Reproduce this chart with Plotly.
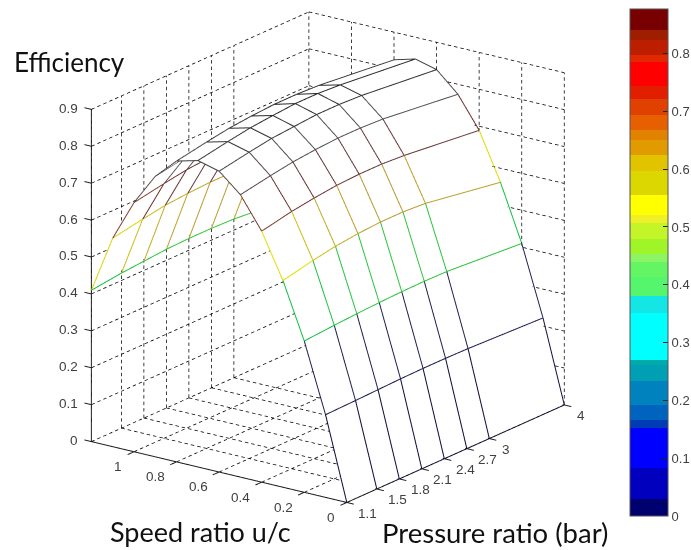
import math
import plotly.graph_objects as go

pressure = [1.1, 1.5, 1.8, 2.1, 2.4, 2.7, 3.0, 4.0]
speed = [0.0, 0.1, 0.2, 0.3, 0.4, 0.5, 0.6, 0.7, 0.8, 0.9, 1.0, 1.1, 1.2]
efficiency = [
    [0, 0, 0, 0, 0, 0, 0, 0],
    [.224, .226, .228, .230, .231, .231, .230, .222],
    [.410, .416, .420, .423, .425, .426, .425, .410],
    [.560, .578, .589, .596, .600, .600, .596, .562],
    [.680, .697, .706, .713, .716, .716, .712, .689],
    [.765, .780, .790, .796, .800, .800, .797, .773],
    [.815, .830, .840, .845, .850, .850, .847, .826],
    [.830, .845, .855, .861, .866, .866, .862, .841],
    [.815, .830, .840, .846, .850, .850, .847, .825],
    [.760, .775, .785, .791, .795, .795, .792, .770],
    [.675, .690, .700, .705, .708, .708, .705, .685],
    [.565, .580, .590, .595, .598, .598, .595, .570],
    [.410, .420, .425, .430, .432, .432, .430, .410],
]
p_ticks = [1.1, 1.5, 1.8, 2.1, 2.4, 2.7, 3, 4]
u_ticks = [0, 0.2, 0.4, 0.6, 0.8, 1]
z_ticks = [0, 0.1, 0.2, 0.3, 0.4, 0.5, 0.6, 0.7, 0.8, 0.9]
bar_ticks = [0, 0.1, 0.2, 0.3, 0.4, 0.5, 0.6, 0.7, 0.8]

band_tops = [.030, .083, .152, .166, .192, .234, .262, .270, .352, .381, .413, .439, .453,
             .480, .507, .521, .556, .597, .625, .650, .667, .694, .722, .744, .785, .798, .823, .840, .877]
band_colors = ["#00006e", "#0000be", "#0000ff", "#003cb4", "#0064be", "#0082be", "#00a0b4", "#00aaaa",
               "#00ffff", "#14e6e6", "#55f56e", "#64f564", "#8cf564", "#a0f528", "#c3f528", "#f0f028",
               "#ffff00", "#dcd700", "#e1c300", "#e19b00", "#e18200", "#e65f00", "#e14100", "#e11e00",
               "#ff0000", "#e12800", "#be1e00", "#a01e00", "#780000"]
mesh_levels = [0, .25, .30, .41, .50, .56, .60, .65, .69, .75, .80, .877]
mesh_colors = ["#101040", "#1c1c50", "#108080", "#10c040", "#a0e020", "#e0e000", "#b89a30",
               "#9a6a30", "#703030", "#604848", "#505050", "#202020"]

P_MIN, P_MAX, U_MIN, U_MAX, Z_MAX = 1.1, 4.0, 0.0, 1.2, 0.9
XR, YR, ZR = [1.0, 4.05], [-0.05, 1.25], [-0.01, 0.91]
CMAX = band_tops[-1]

scale = []
prev = 0.0
for top, col in zip(band_tops, band_colors):
    scale += [[prev / CMAX, col], [top / CMAX, col]]
    prev = top
mesh_scale = [[lv / CMAX, c] for lv, c in zip(mesh_levels, mesh_colors)]

fig = go.Figure()

fig.add_trace(go.Surface(
    x=[p + 0.018 for p in pressure], y=[u + 0.0063 for u in speed],
    z=[[v - 0.0025 for v in row] for row in efficiency],
    colorscale=[[0, "white"], [1, "white"]], showscale=False, hoverinfo="skip",
    lighting=dict(ambient=1, diffuse=0, specular=0, fresnel=0, roughness=1),
))

def polyline_trace(segs, color, width):
    xs, ys, zs = [], [], []
    for seg in segs:
        for (a, b, c) in seg:
            xs.append(a); ys.append(b); zs.append(c)
        xs.append(None); ys.append(None); zs.append(None)
    return go.Scatter3d(x=xs, y=ys, z=zs, mode="lines", hoverinfo="skip", showlegend=False,
                        line=dict(color=color, width=width))

def dashes(a, b, on=3.5, off=3.0):
    sx = (b[0] - a[0]) * 75.17 - (b[1] - a[1]) * 213.3
    sy = (b[0] - a[0]) * 33.8 + (b[1] - a[1]) * 50.8 + (b[2] - a[2]) * 370
    length = math.hypot(sx, sy)
    out, t = [], 0.0
    while t < length:
        t1 = min(t + on, length)
        f0, f1 = t / length, t1 / length
        out.append([tuple(a[k] + (b[k] - a[k]) * f0 for k in range(3)),
                    tuple(a[k] + (b[k] - a[k]) * f1 for k in range(3))])
        t += on + off
    return out

grid = []
for z in z_ticks:
    grid += dashes((P_MIN, U_MAX, z), (P_MAX, U_MAX, z))
    grid += dashes((P_MAX, U_MAX, z), (P_MAX, U_MIN, z))
for p in p_ticks:
    grid += dashes((p, U_MAX, 0), (p, U_MAX, Z_MAX))
    grid += dashes((p, U_MAX, 0), (p, U_MIN, 0))
for u in u_ticks:
    grid += dashes((P_MAX, u, 0), (P_MAX, u, Z_MAX))
    grid += dashes((P_MIN, u, 0), (P_MAX, u, 0))
grid += dashes((P_MAX, U_MAX, 0), (P_MAX, U_MAX, Z_MAX))
fig.add_trace(polyline_trace(grid, "#000000", 1.5))

axes = [[(P_MIN, U_MAX, 0), (P_MIN, U_MIN, 0), (P_MAX, U_MIN, 0)],
        [(P_MIN, U_MAX, 0), (P_MIN, U_MAX, Z_MAX)]]
for z in z_ticks:
    axes.append([(P_MIN, U_MAX, z), (P_MIN, U_MAX + 0.033, z)])
for u in u_ticks:
    axes.append([(P_MIN, u, 0), (P_MIN - 0.085, u, 0)])
for p in p_ticks:
    axes.append([(p, U_MIN, 0), (p, U_MIN - 0.033, 0)])
fig.add_trace(polyline_trace(axes, "#222222", 2))

mx, my, mz, mc = [], [], [], []
def add_edge(a, b, v):
    mx.extend([a[0], b[0], None]); my.extend([a[1], b[1], None]); mz.extend([a[2], b[2], None])
    mc.extend([v, v, v])
for i, u in enumerate(speed):
    for j, p in enumerate(pressure):
        v = efficiency[i][j]
        if j + 1 < len(pressure):
            add_edge((p, u, v), (pressure[j + 1], u, efficiency[i][j + 1]), v)
        if i + 1 < len(speed):
            add_edge((p, u, v), (p, speed[i + 1], efficiency[i + 1][j]), v)
fig.add_trace(go.Scatter3d(
    x=mx, y=my, z=mz, mode="lines", hoverinfo="skip", showlegend=False,
    line=dict(color=mc, colorscale=mesh_scale, cmin=0, cmax=CMAX, width=2),
))
fig.add_trace(go.Scatter3d(
    x=[P_MAX], y=[U_MAX], z=[0], mode="markers", hoverinfo="skip", showlegend=False,
    marker=dict(size=1, opacity=0, color=[0], colorscale=scale, cmin=0, cmax=CMAX, showscale=True,
                colorbar=dict(x=630 / 691, xanchor="left", xpad=0, ypad=0, y=1 - 9 / 550, yanchor="top",
                              lenmode="pixels", len=507, thicknessmode="pixels", thickness=38,
                              tickvals=bar_ticks, ticktext=[f"{t:g}" for t in bar_ticks],
                              ticks="inside", ticklen=5, tickcolor="#222222",
                              tickfont=dict(family="Liberation Sans", size=13, color="#404040"),
                              outlinecolor="#555555", outlinewidth=1)),
))

TICKFONT = dict(family="Liberation Sans", size=13.5, color="#404040")
ann = []
for z in z_ticks:
    ann.append(dict(x=P_MIN, y=U_MAX, z=z, text=f"{z:g}", showarrow=False, xanchor="right",
                    xshift=-11, yshift=1, font=TICKFONT))
for u in u_ticks:
    ann.append(dict(x=P_MIN, y=u, z=0, text=f"{u:g}", showarrow=False,
                    xshift=-21 if 0 < u < 1 else -16, yshift=-15, font=TICKFONT))
for p in p_ticks:
    ann.append(dict(x=p, y=U_MIN, z=0, text=f"{p:g}", showarrow=False,
                    xshift=21 if p < 3 else 17, yshift=-11, font=TICKFONT))

bar_px = lambda v: 1 - (9 + 507 * (1 - v / CMAX)) / 550
shapes = [dict(type="line", xref="paper", yref="paper", x0=630 / 691, x1=635 / 691, y0=bar_px(t), y1=bar_px(t),
               line=dict(color="#222222", width=1)) for t in bar_ticks[1:]]
shapes += [dict(type="line", xref="paper", yref="paper", x0=663 / 691, x1=668 / 691, y0=bar_px(t), y1=bar_px(t),
                line=dict(color="#222222", width=1)) for t in bar_ticks[1:]]

EYE = 1.0
ZOOM = 1.505
fig.update_layout(
    width=691, height=550, margin=dict(l=0, r=0, t=0, b=0, autoexpand=False), paper_bgcolor="white", showlegend=False,
    shapes=shapes,
    annotations=[
        dict(x=12 / 691, y=1 - 62 / 550, xref="paper", yref="paper", xanchor="left", yanchor="middle", text="Efficiency",
             showarrow=False, font=dict(family="Lato", size=26, color="#111111")),
        dict(x=108 / 691, y=1 - 531 / 550, xref="paper", yref="paper", xanchor="left", yanchor="middle", text="Speed ratio u/c",
             showarrow=False, font=dict(family="Lato", size=27, color="#111111")),
        dict(x=380 / 691, y=1 - 532 / 550, xref="paper", yref="paper", xanchor="left", yanchor="middle", text="Pressure ratio (bar)",
             showarrow=False, font=dict(family="Lato", size=27.5, color="#111111")),
    ],
    scene=dict(
        domain=dict(x=[0, 652 / 691], y=[0.062, 1]),
        aspectmode="manual", aspectratio=dict(x=ZOOM * 389 / 389, y=ZOOM * 343 / 389, z=ZOOM * 360 / 389),
        camera=dict(projection=dict(type="orthographic"), up=dict(x=0, y=0, z=1),
                    center=dict(x=0, y=0, z=0), eye=dict(x=-0.764 * EYE, y=-0.557 * EYE, z=0.327 * EYE)),
        xaxis=dict(range=XR, visible=False),
        yaxis=dict(range=YR, visible=False),
        zaxis=dict(range=ZR, visible=False),
        annotations=ann,
    ),
)
fig.write_html("out.html", config=dict(displayModeBar=False),
               post_script="document.body.style.margin='0';document.body.style.overflow='hidden';")
